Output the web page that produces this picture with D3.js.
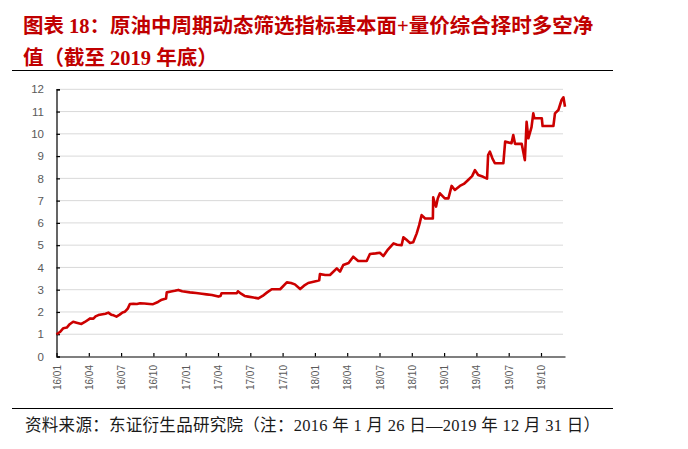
<!DOCTYPE html>
<html><head><meta charset="utf-8">
<script src="https://cdn.jsdelivr.net/npm/d3@7/dist/d3.min.js"></script>
<style>
html,body{margin:0;padding:0;background:#fff;}
svg{display:block;}
</style></head>
<body>
<svg id="c" width="688" height="449"></svg>
<script>
const titleLines = ["图表 18：原油中周期动态筛选指标基本面+量价综合择时多空净", "值（截至 2019 年底）"];
const sourceText = "资料来源：东证衍生品研究院（注：2016 年 1 月 26 日—2019 年 12 月 31 日）";

const tickDates = ["2016-01-26","2016-04-01","2016-07-01","2016-10-01","2017-01-01","2017-04-01","2017-07-01","2017-10-01",
  "2018-01-01","2018-04-01","2018-07-01","2018-10-01","2019-01-01","2019-04-01","2019-07-01","2019-10-01"];
const tickLabels = ["16/01","16/04","16/07","16/10","17/01","17/04","17/07","17/10",
  "18/01","18/04","18/07","18/10","19/01","19/04","19/07","19/10"];
const endDate = "2019-12-31";
const yTicks = [0,1,2,3,4,5,6,7,8,9,10,11,12];

const navDates = ["2016-01-26","2016-02-02","2016-02-09","2016-02-16","2016-02-22","2016-02-29","2016-03-07","2016-03-17","2016-03-24",
"2016-04-05","2016-04-14","2016-04-20","2016-04-28","2016-05-10","2016-05-18","2016-05-26","2016-06-03","2016-06-10","2016-06-18","2016-06-27",
"2016-07-05","2016-07-12","2016-07-20","2016-07-26","2016-08-05","2016-08-15","2016-08-24","2016-09-05","2016-09-20","2016-09-30",
"2016-10-14","2016-10-25","2016-11-06","2016-11-08","2016-11-20","2016-12-01","2016-12-11","2016-12-22",
"2017-01-13","2017-01-30","2017-02-15","2017-02-28","2017-03-15","2017-04-02","2017-04-08","2017-04-11","2017-05-01","2017-05-24","2017-05-27",
"2017-06-05","2017-06-15","2017-06-25","2017-07-10","2017-07-24","2017-08-05","2017-08-18","2017-08-31","2017-09-24",
"2017-10-13","2017-10-25","2017-11-05","2017-11-20","2017-12-01","2017-12-13",
"2018-01-06","2018-01-13","2018-01-15","2018-01-30","2018-02-12","2018-03-03","2018-03-12","2018-03-21","2018-04-05","2018-04-18",
"2018-05-02","2018-05-26","2018-06-04","2018-06-20","2018-07-02","2018-07-12","2018-07-25","2018-08-10","2018-08-20","2018-09-02",
"2018-09-07","2018-09-15","2018-09-26","2018-10-05","2018-10-15","2018-10-22","2018-10-29","2018-11-08","2018-11-30","2018-12-01",
"2018-12-05","2018-12-09","2018-12-14","2018-12-20",
"2019-01-03","2019-01-13","2019-01-22","2019-01-31","2019-02-14","2019-02-25","2019-03-09","2019-03-20","2019-03-28","2019-04-06",
"2019-04-20","2019-05-01","2019-05-04","2019-05-09","2019-05-16","2019-05-23","2019-06-16","2019-06-21","2019-07-09","2019-07-14",
"2019-07-19","2019-08-07","2019-08-16","2019-08-21","2019-08-26","2019-09-04","2019-09-09","2019-09-12","2019-10-04","2019-10-07",
"2019-11-17","2019-11-23","2019-12-06","2019-12-18","2019-12-25","2019-12-31"];
const navValues = [1.00,1.10,1.27,1.30,1.45,1.56,1.52,1.46,1.55,
1.71,1.70,1.80,1.86,1.90,1.92,1.97,1.88,1.85,1.79,1.88,
1.98,2.01,2.15,2.36,2.37,2.36,2.39,2.38,2.36,2.35,
2.45,2.55,2.60,2.88,2.92,2.95,2.99,2.93,
2.88,2.85,2.82,2.79,2.76,2.69,2.72,2.84,2.84,2.84,2.93,
2.82,2.72,2.69,2.65,2.61,2.72,2.88,3.02,3.02,
3.33,3.30,3.24,3.03,3.18,3.30,
3.39,3.42,3.70,3.66,3.66,3.96,3.81,4.11,4.20,4.48,
4.29,4.29,4.60,4.63,4.66,4.51,4.80,5.08,5.02,5.00,
5.35,5.25,5.10,5.13,5.53,5.90,6.35,6.20,6.20,7.15,
6.90,6.73,7.10,7.33,
7.10,7.10,7.66,7.48,7.66,7.75,7.93,8.10,8.37,8.15,
8.07,7.99,9.05,9.20,8.90,8.68,8.68,9.65,9.58,9.95,
9.55,9.55,8.82,10.54,9.80,10.30,10.92,10.70,10.70,10.35,
10.35,10.92,11.07,11.52,11.64,11.22];

const parse = d3.utcParse("%Y-%m-%d");
const svg = d3.select("#c");
const x0 = 56.5, step = 32.3, xEnd = 565;
const domainDates = tickDates.concat([endDate]).map(parse);
const rangeX = tickDates.map((d,i)=>x0 + i*step).concat([xEnd]);
const x = d3.scaleUtc().domain(domainDates).range(rangeX);
const y = d3.scaleLinear().domain([0,12]).range([356.5, 89.3]);

// title
const tfont = "'Liberation Serif','Noto Sans CJK SC',serif";
svg.append("g").selectAll("text").data(titleLines).join("text")
  .attr("x", 23).attr("y", (d,i)=> 33 + i*32)
  .attr("fill", "#c00000").attr("font-weight", 700)
  .attr("font-family", tfont).attr("font-size", 20.5)
  .text(d=>d);

svg.append("line").attr("x1",12).attr("x2",613).attr("y1",70.5).attr("y2",70.5).attr("stroke","#000").attr("stroke-width",1.2);
svg.append("line").attr("x1",12).attr("x2",613).attr("y1",408.5).attr("y2",408.5).attr("stroke","#000").attr("stroke-width",1.2);

svg.append("text").attr("x",25).attr("y",431)
  .attr("fill","#1a1a1a").attr("font-family",tfont).attr("font-size",16.5)
  .attr("textLength",575).attr("lengthAdjust","spacing")
  .text(sourceText);

// gridlines
svg.append("g").selectAll("line").data(yTicks.filter(v=>v>0)).join("line")
  .attr("x1", x0).attr("x2", xEnd-2).attr("y1", d=>y(d)).attr("y2", d=>y(d))
  .attr("stroke", "#d9d9d9").attr("stroke-width", 1);

// y axis
const yAxis = d3.axisLeft(y).tickValues(yTicks).tickSize(-3.5).tickPadding(12.5).tickFormat(d3.format("d"));
const gy = svg.append("g").attr("transform", `translate(${x0},0)`).call(yAxis);
gy.select(".domain").attr("stroke","#000").attr("stroke-width",1.2);
gy.selectAll(".tick line").attr("stroke","#000").attr("stroke-width",1.2);
gy.selectAll("text").attr("fill","#595959").attr("font-size",11.5).attr("font-family","'Liberation Sans',Arial,sans-serif");

// x axis
const xAxis = d3.axisBottom(x).tickValues(tickDates.map(parse)).tickSize(-3.5).tickSizeOuter(0)
  .tickFormat((d,i)=>tickLabels[i]);
const gx = svg.append("g").attr("transform", `translate(0,${y(0)})`).call(xAxis);
gx.select(".domain").attr("stroke","#000").attr("stroke-width",1.2);
gx.selectAll(".tick line").attr("stroke","#000").attr("stroke-width",1.2);
gx.selectAll("text").attr("fill","#595959").attr("font-size",10).attr("font-family","'Liberation Sans',Arial,sans-serif")
  .attr("transform","rotate(-90)").attr("text-anchor","end").attr("y",0).attr("x",-8.5)
  .attr("dy","0.35em");

// line
const line = d3.line().x((d,i)=>x(parse(navDates[i]))).y(d=>y(d)).curve(d3.curveLinear);
svg.append("path").datum(navValues).attr("d", line)
  .attr("fill","none").attr("stroke","#cc0000").attr("stroke-width",2.6).attr("stroke-linejoin","round");
</script>
</body></html>
